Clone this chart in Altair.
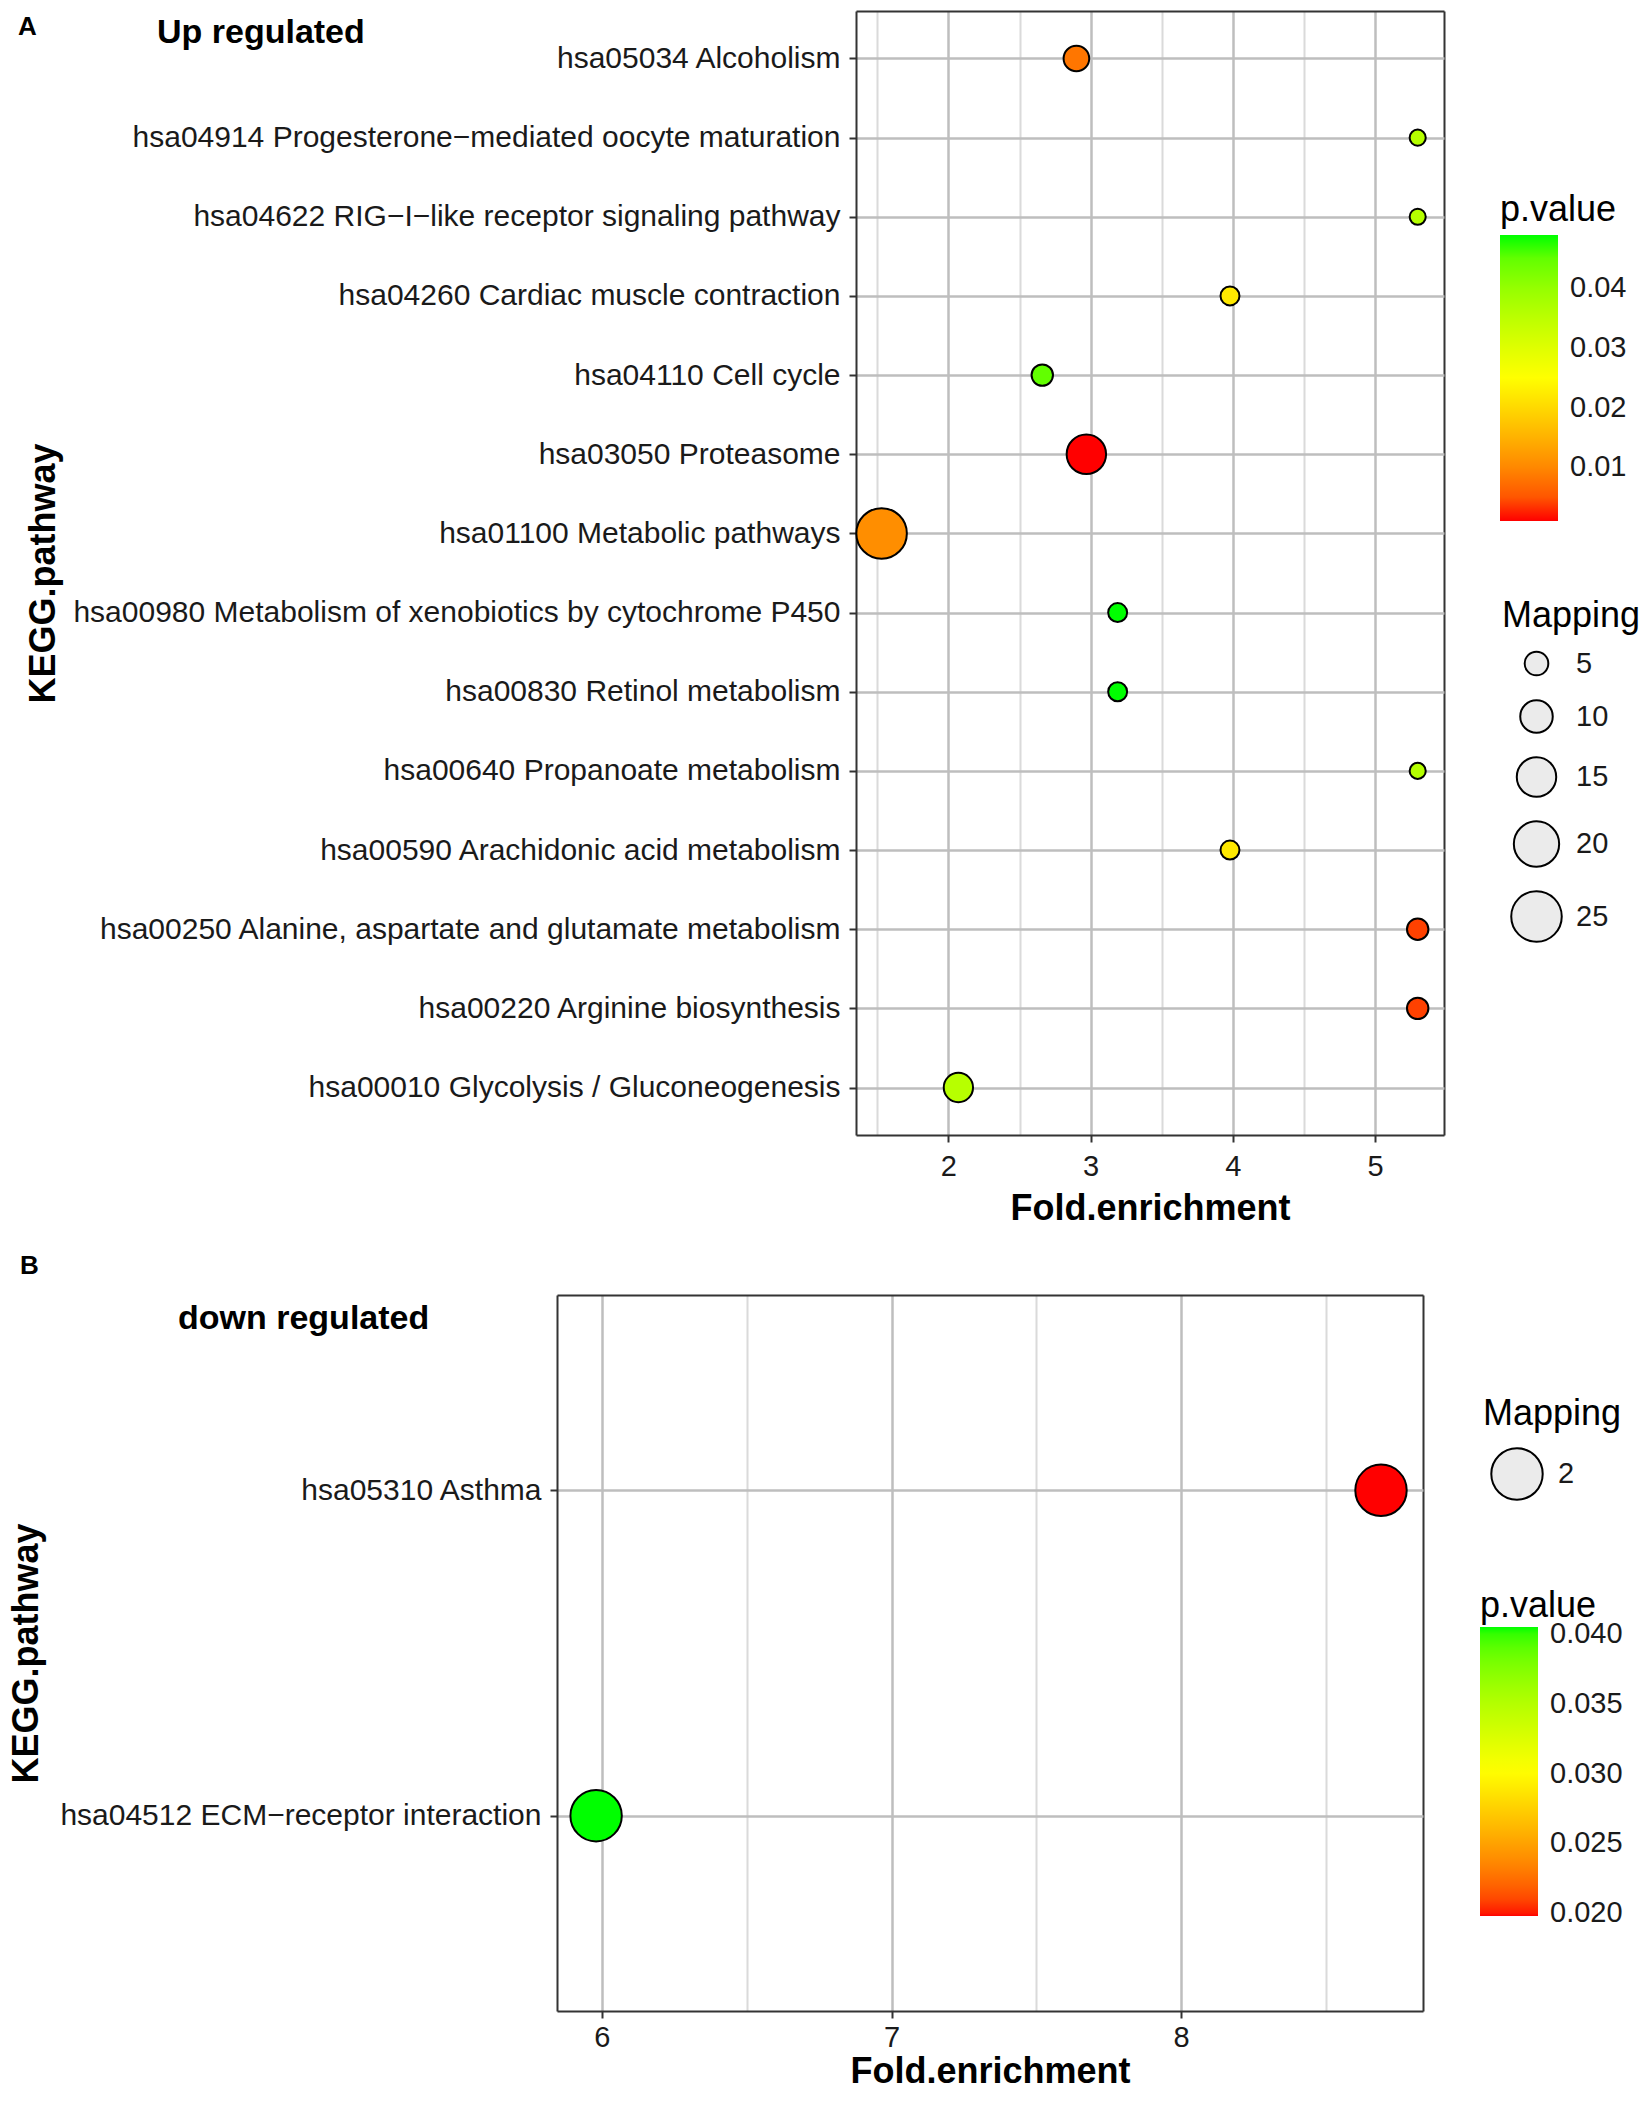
import altair as alt
import pandas as pd

FONT = "Liberation Sans"

# ---------------- data: panel A (up regulated) ----------------
up_pathway = [
    "hsa05034 Alcoholism",
    "hsa04914 Progesterone\u2212mediated oocyte maturation",
    "hsa04622 RIG\u2212I\u2212like receptor signaling pathway",
    "hsa04260 Cardiac muscle contraction",
    "hsa04110 Cell cycle",
    "hsa03050 Proteasome",
    "hsa01100 Metabolic pathways",
    "hsa00980 Metabolism of xenobiotics by cytochrome P450",
    "hsa00830 Retinol metabolism",
    "hsa00640 Propanoate metabolism",
    "hsa00590 Arachidonic acid metabolism",
    "hsa00250 Alanine, aspartate and glutamate metabolism",
    "hsa00220 Arginine biosynthesis",
    "hsa00010 Glycolysis / Gluconeogenesis",
]
up_fold = [2.90, 5.30, 5.30, 3.98, 2.66, 2.97, 1.53, 3.19, 3.19, 5.30, 3.98, 5.30, 5.30, 2.07]
up_pvalue = [0.008, 0.036, 0.036, 0.022, 0.045, 0.001, 0.0106, 0.0489, 0.0489, 0.036, 0.022, 0.0034, 0.0034, 0.0357]
up_mapping = [6, 2, 2, 3, 4, 15, 25, 3, 3, 2, 3, 4, 4, 8]
up_xdomain = [1.35, 5.485]
up_xticks = [2, 3, 4, 5]
up_xminor = [1.5, 2.5, 3.5, 4.5]
up_pticks = [0.01, 0.02, 0.03, 0.04]
up_sizeticks = [5, 10, 15, 20, 25]

# ---------------- data: panel B (down regulated) ----------------
down_pathway = ["hsa05310 Asthma", "hsa04512 ECM\u2212receptor interaction"]
down_fold = [8.69, 5.98]
down_pvalue = [0.0198, 0.0405]
down_mapping = [2, 2]
down_xdomain = [5.845, 8.835]
down_xticks = [6, 7, 8]
down_xminor = [6.5, 7.5, 8.5]
down_pticks = [0.02, 0.025, 0.03, 0.035, 0.04]
down_sizeticks = [2]

up_df = pd.DataFrame({"pathway": up_pathway, "fold": up_fold, "p": up_pvalue, "m": up_mapping})
down_df = pd.DataFrame({"pathway": down_pathway, "fold": down_fold, "p": down_pvalue, "m": down_mapping})
one = pd.DataFrame({"k": [0]})

COLORS = ["#FF0000", "#FFFF00", "#00FF00"]
MAJOR = "#BEBEBE"
MINOR = "#DADADA"
BORDER = "#333333"


def axis_common():
    return dict(labelFont=FONT, labelColor="#1A1A1A", labelLimit=3000,
                titleFont=FONT, titleFontSize=36, titleFontWeight="bold", titleColor="black",
                tickColor=BORDER, tickWidth=2, tickSize=7,
                domain=True, domainColor=BORDER, domainWidth=2,
                grid=True, gridColor=MAJOR, gridWidth=2.5)


def grad_legend(x, y, length, values, fmt, tpad):
    return alt.Legend(title="p.value", orient="none", legendX=x, legendY=y, direction="vertical",
                      values=values, format=fmt, gradientLength=length, gradientThickness=58,
                      gradientStrokeWidth=0, labelOffset=12, labelFont=FONT, labelFontSize=29,
                      labelColor="#1A1A1A", labelLimit=500, titleFont=FONT, titleFontSize=36,
                      titleFontWeight="normal", titleColor="black", titlePadding=tpad, padding=0)


def size_legend(x, y, values, row_pad, label_off, sym_off):
    return alt.Legend(title="Mapping", orient="none", legendX=x, legendY=y, values=values,
                      format="d", symbolType="circle", symbolFillColor="#EBEBEB",
                      symbolStrokeColor="black", symbolStrokeWidth=2, symbolOpacity=1,
                      symbolOffset=sym_off,
                      labelFont=FONT, labelFontSize=29, labelColor="#1A1A1A",
                      labelOffset=label_off, rowPadding=row_pad,
                      titleFont=FONT, titleFontSize=36, titleFontWeight="normal",
                      titleColor="black", titlePadding=14, padding=0, labelLimit=500)


def text_layer(txt, x, y, size):
    return alt.Chart(one).mark_text(text=txt, font=FONT, fontSize=size, fontWeight="bold",
                                    align="left", baseline="middle",
                                    color="black").encode(x=alt.value(x), y=alt.value(y))


def minor_layer(df, values, right_edge):
    # minor vertical grid + top border (axis domain) + right border (last grid line)
    return alt.Chart(df).mark_point(opacity=0).encode(
        x=alt.X("fold:Q", axis=alt.Axis(
            orient="top", values=values + [right_edge], labels=False, ticks=False,
            domain=True, domainColor=BORDER, domainWidth=2, title=None, grid=True,
            gridColor=alt.condition(f"datum.value > {right_edge - 0.01}",
                                    alt.value(BORDER), alt.value(MINOR)),
            gridWidth=2)),
        y=alt.value(0),
    )


# size scale: symbol area grows linearly with the mapping count
SIZE_RANGE_PER = (60, 2552)  # area at 0 and at 25

# ---------------- panel A ----------------
# Panel A's view shares its left origin with panel B; its x scale only uses the
# right-hand part of the view, so the two panels keep the reference's left edges.
A_W, A_H, A_SHIFT = 887, 1124, 299

xA = alt.X("fold:Q",
           scale=alt.Scale(domain=up_xdomain, range=[A_SHIFT, A_W], nice=False, zero=False),
           axis=alt.Axis(values=up_xticks, title="Fold.enrichment", labelFontSize=29,
                         labelPadding=10, titlePadding=10, **axis_common()))
yA = alt.Y("pathway:N", sort=up_pathway, scale=alt.Scale(padding=0.6),
           axis=alt.Axis(title="KEGG.pathway", labelFontSize=30, labelPadding=9,
                         offset=-A_SHIFT, minExtent=794, maxExtent=794, titlePadding=0,
                         **axis_common()))

ptsA = alt.Chart(up_df).mark_circle(opacity=1, stroke="black", strokeWidth=2).encode(
    x=xA, y=yA,
    color=alt.Color("p:Q", scale=alt.Scale(domain=[0.001, 0.02495, 0.0489], range=COLORS,
                                           interpolate="lab"),
                    legend=grad_legend(943, 182, 286, up_pticks, ".2f", 6)),
    size=alt.Size("m:Q", scale=alt.Scale(domain=[0, 25], range=list(SIZE_RANGE_PER)),
                  legend=size_legend(945, 588, up_sizeticks, 16, 13, 8)),
)

chart_a = alt.layer(
    minor_layer(up_df, up_xminor, up_xdomain[1]), ptsA,
    text_layer("A", -539, 16, 26),
    text_layer("Up regulated", -400, 22, 34),
).resolve_axis(x="independent").properties(width=A_W, height=A_H)

# ---------------- panel B ----------------
B_W, B_H = 866, 716

xB = alt.X("fold:Q", scale=alt.Scale(domain=down_xdomain, nice=False, zero=False),
           axis=alt.Axis(values=down_xticks, title="Fold.enrichment", labelFontSize=29,
                         labelPadding=5, titlePadding=2, **axis_common()))
yB = alt.Y("pathway:N", sort=down_pathway, scale=alt.Scale(padding=0.6),
           axis=alt.Axis(title="KEGG.pathway", labelFontSize=30, labelPadding=9,
                         minExtent=512, maxExtent=512, titlePadding=0, **axis_common()))

ptsB = alt.Chart(down_df).mark_circle(opacity=1, stroke="black", strokeWidth=2).encode(
    x=xB, y=yB,
    color=alt.Color("p:Q", scale=alt.Scale(domain=[0.0198, 0.03015, 0.0405], range=COLORS,
                                           interpolate="lab"),
                    legend=grad_legend(923, 294, 289, down_pticks, ".3f", 2)),
    size=alt.Size("m:Q", scale=alt.Scale(domain=[0, 2], range=[0, 2642], zero=True),
                  legend=size_legend(926, 102, down_sizeticks, 10, 14, 7)),
)

chart_b = alt.layer(
    minor_layer(down_df, down_xminor, down_xdomain[1]), ptsB,
    text_layer("B", -537, -29, 26),
    text_layer("down regulated", -379, 23.5, 34),
).resolve_axis(x="independent").properties(width=B_W, height=B_H)

chart = alt.vconcat(chart_a, chart_b, spacing=27).resolve_scale(
    color="independent", size="independent", x="independent", y="independent"
).properties(
    padding={"left": 0, "top": 0, "right": 0, "bottom": 0}
).configure_view(stroke="transparent", strokeWidth=0)

chart.save("out.html", embed_options={"renderer": "svg", "actions": False})
